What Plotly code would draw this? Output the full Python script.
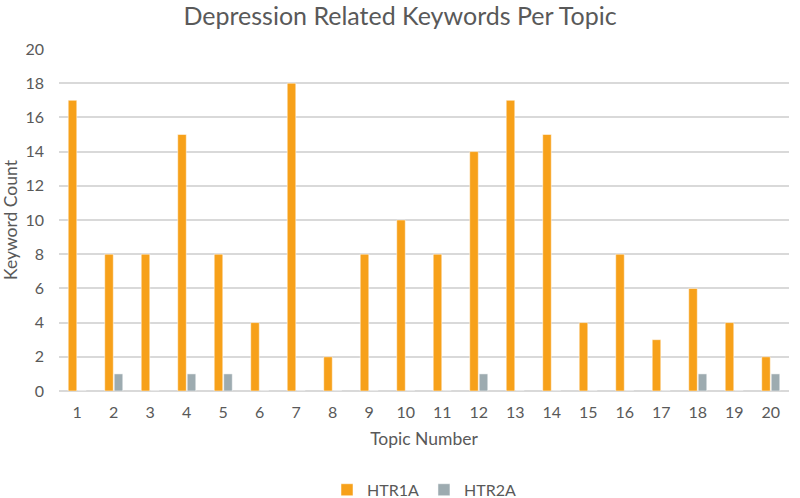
import plotly.graph_objects as go

topics = [str(i) for i in range(1, 21)]
htr1a = [17, 8, 8, 15, 8, 4, 18, 2, 8, 10, 8, 14, 17, 15, 4, 8, 3, 6, 4, 2]
htr2a = [0, 1, 0, 1, 1, 0, 0, 0, 0, 0, 0, 1, 0, 0, 0, 0, 0, 1, 0, 1]

fig = go.Figure()
fig.add_trace(go.Bar(x=topics, y=htr1a, name='HTR1A', marker_color='#F7A11A'))
fig.add_trace(go.Bar(x=topics, y=htr2a, name='HTR2A', marker_color='#9DABB0'))

font_family = 'Lato, "Open Sans", sans-serif'
fig.update_layout(
    width=800, height=498,
    template='plotly_white',
    barmode='group', bargap=0.48, bargroupgap=0.1,
    font=dict(family=font_family, color='#595959', size=16),
    title=dict(text='Depression Related Keywords Per Topic', x=0.5, xanchor='center',
               y=0.968, yanchor='middle', font=dict(size=25, color='#595959')),
    margin=dict(l=59, r=11, t=49, b=107, autoexpand=False),
    plot_bgcolor='white', paper_bgcolor='white',
    legend=dict(orientation='h', x=0.5, xanchor='center', y=-0.289, yanchor='middle',
                font=dict(size=16), itemwidth=30, traceorder='normal'),
    xaxis=dict(title=dict(text='Topic Number', font=dict(size=17.5), standoff=12),
               showgrid=False, showline=False, ticks='', tickfont=dict(size=16),
               ticklabelstandoff=10),
    yaxis=dict(title=dict(text='Keyword Count', font=dict(size=17.5), standoff=12),
               range=[0, 20], dtick=2, gridcolor='#D9D9D9', gridwidth=1.5,
               zeroline=True, zerolinecolor='#D9D9D9', zerolinewidth=2,
               showline=False, ticks='', tickfont=dict(size=16),
               ticklabelstandoff=14),
)

# remove the default page margin so the figure sits at the window's corner
fig.write_html("out.html", config={'displayModeBar': False},
               post_script="document.body.style.margin='0';")
